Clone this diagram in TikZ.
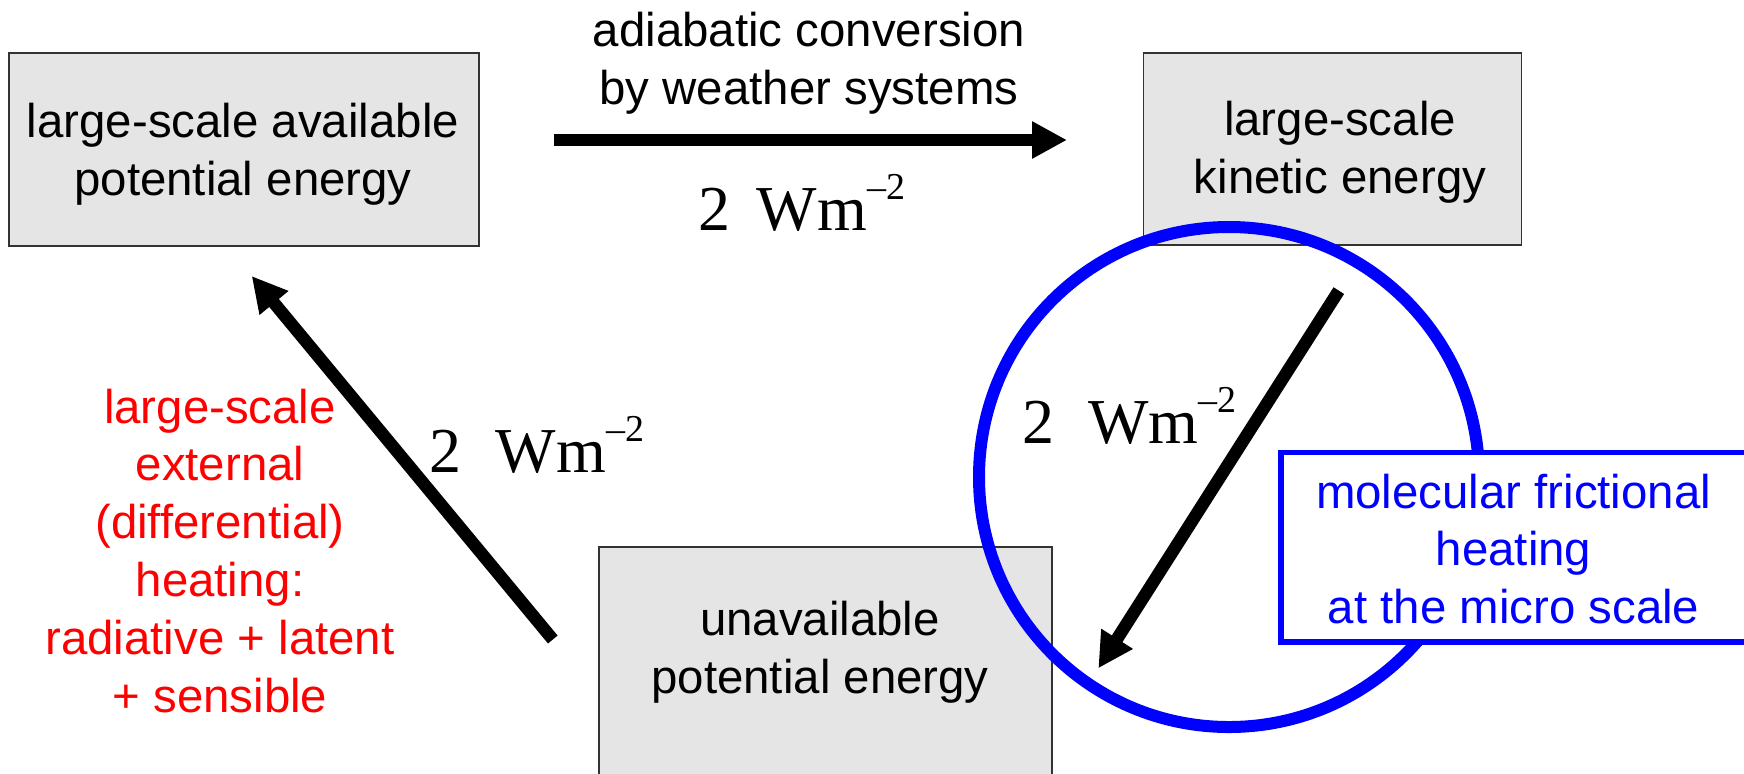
\documentclass[tikz,border=0pt]{standalone}
\usepackage{fontspec}
\setmainfont{Liberation Sans}
\newfontfamily\wmfont{Liberation Serif}
\usetikzlibrary{arrows.meta}
\definecolor{boxgray}{RGB}{229,229,229}
\definecolor{pureblue}{RGB}{0,0,255}
\definecolor{purered}{RGB}{255,0,0}
\tikzset{
  energybox/.style={draw=black!80, line width=0.75pt, fill=boxgray, inner sep=0pt, outer sep=0pt},
  boxtext/.style={anchor=base, align=center, inner sep=0pt, font=\fontsize{23.7}{29}\selectfont},
  redtext/.style={anchor=base, align=center, inner sep=0pt, text=purered, font=\fontsize{23.7}{28.9}\selectfont},
  bluetext/.style={anchor=base, align=center, inner sep=0pt, text=pureblue, font=\fontsize{23.7}{28.75}\selectfont},
  fluxlabel/.style={anchor=base west, inner sep=0pt, font=\wmfont\fontsize{32}{32}\selectfont},
  flowarrow/.style={line width=6.25pt, -{Triangle[length=17.5pt,width=17.5pt]}},
}
\newcommand{\wmunit}[1]{2\hspace{#1}Wm\raisebox{15.5pt}{\fontsize{19}{19}\selectfont \textendash 2}}
\begin{document}
\begin{tikzpicture}[x=0.5pt,y=-0.5pt]
\useasboundingbox (0,0) rectangle (1744,773);
% boxes
\node[energybox, minimum width=235pt, minimum height=96.5pt] (ape) at (244,149.5) {};
\node[energybox, minimum width=189pt, minimum height=96pt] (ke) at (1332.5,149) {};
\node[energybox, minimum width=226.5pt, minimum height=130pt] (upe) at (825.5,677) {};
\node[boxtext] (apetext) at (243,195) {large-scale available\\potential energy};
\node[boxtext] (ketext) at (1340,193.5) {large-scale\\kinetic energy};
\node[boxtext] (upetext) at (820,693) {unavailable\\potential energy};
% blue circle
\node[draw=pureblue, line width=6pt, circle, minimum size=250pt, inner sep=0pt] (fric) at (1229,477) {};
% top arrow
\coordinate (a1s) at (554,140);
\coordinate (a1e) at (1067,140);
\draw[flowarrow] (a1s) -- (a1e);
\node[boxtext, font=\fontsize{23.7}{29.25}\selectfont] (adiab) at (809,104.5) {adiabatic conversion\\by weather systems};
\node[fluxlabel] (flux1) at (698.5,230) {\wmunit{13pt}};
% left arrow
\coordinate (a2s) at (552.8,639.5);
\coordinate (a2e) at (251.7,276);
\draw[flowarrow] (a2s) -- (a2e);
\node[fluxlabel] (flux2) at (429.5,472.7) {\wmunit{17pt}};
\node[redtext] (heat) at (220,712) {large-scale\\external\\(differential)\\heating:\\radiative + latent\\+ sensible};
% right arrow
\coordinate (a3s) at (1338.8,290.6);
\coordinate (a3e) at (1098.3,668.3);
\draw[flowarrow] (a3s) -- (a3e);
\node[fluxlabel] (flux3) at (1022,443.3) {\wmunit{17pt}};
% blue box
\node[draw=pureblue, line width=2.75pt, fill=white, inner sep=0pt, minimum width=240pt, minimum height=94.75pt] (fricbox) at (1521,547.25) {};
\node[bluetext] (frictext) at (1513.6,623) {molecular frictional\\heating\\at the micro scale};
\end{tikzpicture}
\end{document}
